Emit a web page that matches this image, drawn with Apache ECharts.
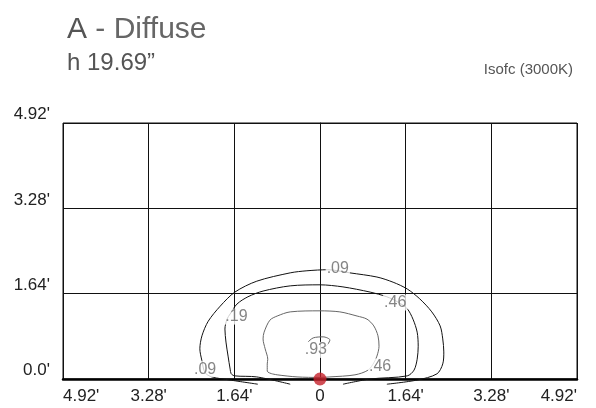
<!DOCTYPE html>
<html>
<head>
<meta charset="utf-8">
<script src="https://cdn.jsdelivr.net/npm/echarts@6/dist/echarts.min.js"></script>
<style>
  html, body { margin: 0; padding: 0; background: #fff; }
  #chart { width: 596px; height: 408px; }
</style>
</head>
<body>
<div id="chart"></div>
<script>
// axis ticks (feet) and their printed labels
const xTicks = [-4.92, -3.28, -1.64, 0, 1.64, 3.28, 4.92];
const xTickLabels = ["4.92'", "3.28'", "1.64'", "0", "1.64'", "3.28'", "4.92'"];
const yTicks = [0, 1.64, 3.28, 4.92];
const yTickLabels = ["0.0'", "1.64'", "3.28'", "4.92'"];

// isolines, [x ft, y ft]
const iso09 = [[-1.19,-0.10],[-1.72,-0.02],[-2.07,0.04],[-2.20,0.12],[-2.26,0.35],[-2.30,0.58],[-2.26,0.83],[-2.14,1.11],[-1.91,1.40],[-1.63,1.67],[-1.21,1.88],[-0.57,2.04],[-0.25,2.08],[0.15,2.10],[0.57,2.04],[1.09,1.96],[1.40,1.86],[1.67,1.73],[1.91,1.54],[2.14,1.29],[2.30,1.02],[2.35,0.77],[2.37,0.52],[2.35,0.29],[2.24,0.10],[1.86,-0.02],[1.28,-0.10]];
const iso19 = [[-0.57,-0.10],[-1.21,0.04],[-1.63,0.06],[-1.70,0.10],[-1.72,0.19],[-1.76,0.44],[-1.80,0.71],[-1.82,0.96],[-1.78,1.15],[-1.72,1.25],[-1.59,1.44],[-1.38,1.58],[-1.09,1.69],[-0.57,1.79],[0,1.81],[0.44,1.77],[0.96,1.67],[1.28,1.58],[1.49,1.48],[1.67,1.35],[1.78,1.15],[1.86,0.90],[1.88,0.63],[1.86,0.38],[1.80,0.17],[1.67,0.06],[0.96,0.00],[0.44,-0.10]];
const iso46 = [[-0.92,0.10],[-1.01,0.15],[-1.01,0.29],[-1.00,0.38],[-1.05,0.58],[-1.09,0.77],[-1.07,0.90],[-0.96,1.13],[-0.82,1.21],[-0.57,1.29],[0,1.31],[0.38,1.29],[0.71,1.21],[0.90,1.15],[1.03,1.02],[1.11,0.83],[1.13,0.63],[1.09,0.44],[1.03,0.31],[0.92,0.17],[0.67,0.08],[0.19,0.04],[0,0.03],[-0.44,0.04],[-0.82,0.08],[-0.92,0.10]];
const iso93 = [[-0.23,0.71],[-0.13,0.79],[0.06,0.81],[0.19,0.75],[0.15,0.67],[0.10,0.62]];

// isoline value labels
const labelText = [".09", ".46", ".19", ".93", ".09", ".46"];
const labelX = [0.34, 1.44, -1.60, -0.08, -2.20, 1.15];
const labelY = [2.12, 1.47, 1.20, 0.56, 0.19, 0.24];

// fixture position
const source = [[0, 0]];

const pick = (ticks, labels, v) => {
  const i = ticks.findIndex(t => Math.abs(t - v) < 1e-6);
  return i < 0 ? "" : labels[i];
};

const chart = echarts.init(document.getElementById("chart"), null, { renderer: "canvas" });

const isoLine = (data, color) => ({
  type: "line",
  data,
  smooth: 0.3,
  showSymbol: false,
  clip: false,
  silent: true,
  lineStyle: { color, width: 1 },
  z: 3
});

chart.setOption({
  animation: false,
  textStyle: { fontFamily: "Liberation Sans" },
  title: [
    {
      text: "{a|A}{b| - Diffuse}",
      left: 62, top: 10,
      textStyle: {
        fontWeight: "normal",
        rich: {
          a: { fontSize: 30, color: "#555", fontWeight: "normal" },
          b: { fontSize: 30, color: "#666", fontWeight: "normal" }
        }
      }
    },
    { text: "h 19.69”", left: 62, top: 46, textStyle: { fontSize: 24, fontWeight: "normal", color: "#555" } },
    { text: "Isofc (3000K)", right: 18, top: 57, textStyle: { fontSize: 15, fontWeight: "normal", color: "#555" } }
  ],
  grid: { left: 63, right: 19, top: 123, bottom: 29, show: true, borderColor: "#111", borderWidth: 1 },
  xAxis: {
    type: "value", min: -4.92, max: 4.92, interval: 1.64,
    axisLine: { show: true, onZero: false, lineStyle: { color: "#000", width: 2.5 } },
    axisTick: { show: false },
    splitLine: { show: true, lineStyle: { color: "#111", width: 1 } },
    axisLabel: {
      color: "#222", fontSize: 17, margin: 9,
      alignMinLabel: "left", alignMaxLabel: "right",
      formatter: v => pick(xTicks, xTickLabels, v)
    }
  },
  yAxis: {
    type: "value", min: 0, max: 4.92, interval: 1.64,
    axisLine: { show: true, lineStyle: { color: "#111", width: 1 } },
    axisTick: { show: false },
    splitLine: { show: true, lineStyle: { color: "#111", width: 1 } },
    axisLabel: {
      color: "#222", fontSize: 17, margin: 13, verticalAlign: "bottom",
      formatter: v => pick(yTicks, yTickLabels, v)
    }
  },
  series: [
    isoLine(iso09, "#111"),
    isoLine(iso19, "#111"),
    isoLine(iso46, "#666"),
    isoLine(iso93, "#666"),
    {
      type: "scatter",
      data: labelText.map((t, i) => ({ name: t, value: [labelX[i], labelY[i]] })),
      symbolSize: 1,
      itemStyle: { color: "rgba(0,0,0,0)" },
      silent: true,
      clip: false,
      z: 5,
      label: {
        show: true, position: "inside", formatter: p => p.name,
        color: "#666", fontSize: 16, backgroundColor: "#fff", padding: [0, 1]
      }
    },
    {
      type: "scatter",
      data: source,
      symbolSize: 13,
      clip: false,
      silent: true,
      itemStyle: { color: "#c4202b" },
      z: 6
    }
  ]
});
</script>
</body>
</html>
